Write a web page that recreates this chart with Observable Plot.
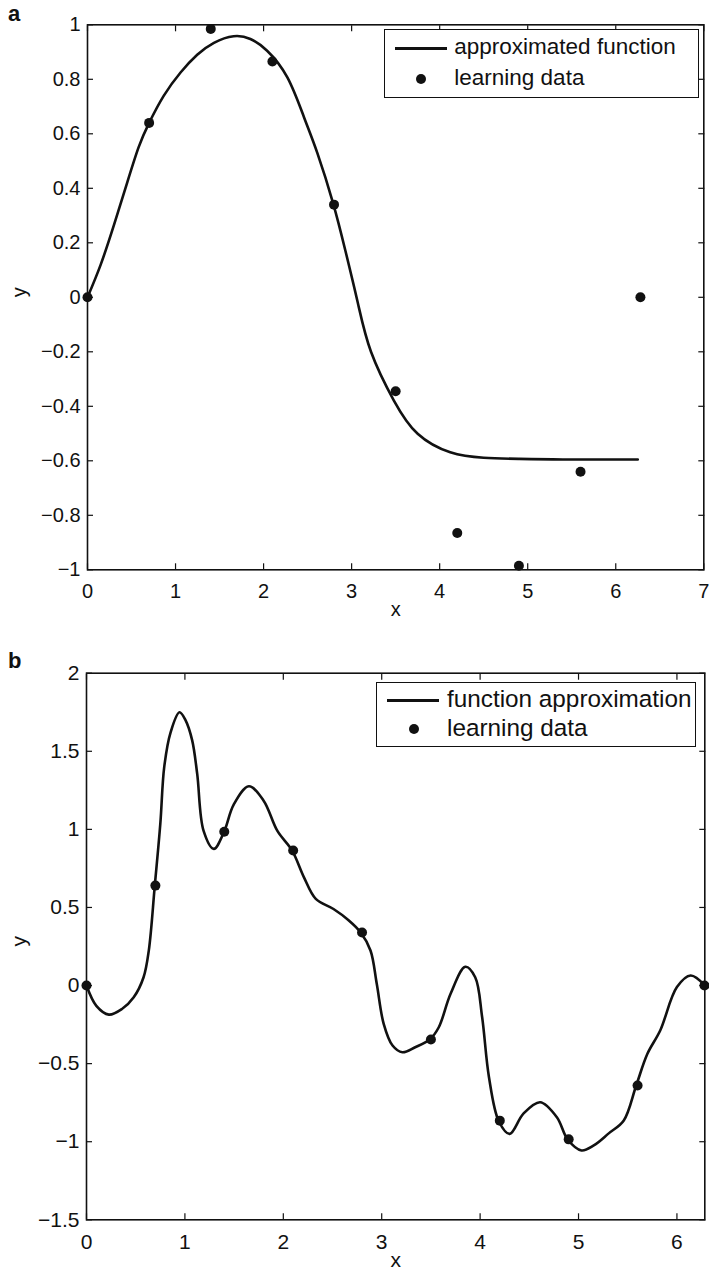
<!DOCTYPE html>
<html><head><meta charset="utf-8">
<script src="https://cdn.jsdelivr.net/npm/d3@7"></script>
<script src="https://cdn.jsdelivr.net/npm/@observablehq/plot@0.6"></script>
<style>
body{margin:0;background:#fff;font-family:"Liberation Sans",Arial,sans-serif;color:#111;}
#wrap{position:relative;width:709px;height:1277px;overflow:hidden;}
.panel{position:absolute;left:0;}
.tag{position:absolute;font-weight:bold;font-size:22px;line-height:1;}
.legend{position:absolute;border:1.6px solid #111;background:#fff;box-sizing:border-box;}
.legend .ln{position:absolute;height:3px;background:#111;}
.legend .dt{position:absolute;width:10px;height:10px;border-radius:50%;background:#111;}
.legend .tx{position:absolute;white-space:nowrap;}
</style>
</head><body>
<div id="wrap"></div>
<script>
// learning data (same in both panels)
const learnX = [0, 0.7, 1.4, 2.1, 2.8, 3.5, 4.2, 4.9, 5.6, 6.28];
const learnY = [0, 0.64, 0.985, 0.865, 0.34, -0.345, -0.865, -0.985, -0.64, 0];

// panel a: approximated function
const aCurveX = [0, 0.15, 0.30, 0.45, 0.58, 0.70, 0.867, 1.057, 1.246, 1.436, 1.66, 1.85, 2.04, 2.27, 2.46, 2.61, 2.79, 2.93, 3.07, 3.22, 3.48, 3.75, 4.12, 4.50, 4.90, 5.40, 6.25];
const aCurveY = [0, 0.12, 0.265, 0.42, 0.55, 0.64, 0.74, 0.825, 0.89, 0.934, 0.958, 0.948, 0.905, 0.807, 0.66, 0.53, 0.345, 0.17, -0.02, -0.20, -0.379, -0.501, -0.569, -0.589, -0.593, -0.595, -0.595];

// panel b: function approximation
const bCurveX = [0, 0.10, 0.227, 0.36, 0.48, 0.58, 0.633, 0.694, 0.75, 0.79, 0.854, 0.945, 1.006, 1.074, 1.125, 1.19, 1.294, 1.395, 1.497, 1.65, 1.80, 1.94, 2.09, 2.21, 2.33, 2.51, 2.66, 2.785, 2.886, 2.95, 3.02, 3.11, 3.21, 3.34, 3.49, 3.58, 3.70, 3.85, 3.95, 4.02, 4.09, 4.19, 4.30, 4.44, 4.61, 4.78, 4.89, 5.03, 5.155, 5.31, 5.46, 5.586, 5.70, 5.83, 6.0, 6.14, 6.283];
const bCurveY = [0, -0.13, -0.186, -0.15, -0.075, 0.053, 0.224, 0.64, 1.035, 1.40, 1.62, 1.75, 1.70, 1.57, 1.355, 0.99, 0.875, 0.98, 1.16, 1.276, 1.184, 0.99, 0.864, 0.693, 0.555, 0.49, 0.42, 0.341, 0.224, 0.01, -0.245, -0.384, -0.427, -0.395, -0.344, -0.267, -0.053, 0.12, 0.053, -0.20, -0.587, -0.869, -0.95, -0.82, -0.747, -0.843, -0.986, -1.056, -1.024, -0.945, -0.864, -0.64, -0.437, -0.288, -0.01, 0.064, 0];

// ticks
const aXTicks = [0, 1, 2, 3, 4, 5, 6, 7];
const aYTicks = [-1, -0.8, -0.6, -0.4, -0.2, 0, 0.2, 0.4, 0.6, 0.8, 1];
const bXTicks = [0, 1, 2, 3, 4, 5, 6];
const bYTicks = [-1.5, -1, -0.5, 0, 0.5, 1, 1.5, 2];

const fmt = d => (d < 0 ? "\u2212" : "") + String(Math.abs(d));
const INK = "#111";

function panel({top, height, mt, mb, ml, mr, xDomain, yDomain, xTicks, yTicks, curveX, curveY, curveType, fs, padX, xLabDy, yLabDx}) {
  const curve = curveX.map((x, i) => ({x, y: curveY[i]}));
  const pts = learnX.map((x, i) => ({x, y: learnY[i]}));
  const tick = 6;
  const svg = Plot.plot({
    width: 709, height,
    marginTop: mt, marginBottom: mb, marginLeft: ml, marginRight: mr,
    style: {fontFamily: '"Liberation Sans", Arial, sans-serif', fontSize: fs + "px", color: INK, background: "white", overflow: "visible"},
    x: {domain: xDomain},
    y: {domain: yDomain},
    marks: [
      Plot.axisX(xTicks, {anchor: "bottom", tickSize: -tick, tickPadding: padX + tick, tickFormat: fmt, label: null, fontSize: fs, stroke: INK, fill: INK, strokeWidth: 1.2}),
      Plot.axisX(xTicks, {anchor: "top", tickSize: -tick, tickFormat: () => "", label: null, stroke: INK, strokeWidth: 1.2}),
      Plot.axisY(yTicks, {anchor: "left", tickSize: -tick, tickPadding: 7 + tick, tickFormat: fmt, label: null, fontSize: fs, stroke: INK, fill: INK, strokeWidth: 1.2}),
      Plot.axisY(yTicks, {anchor: "right", tickSize: -tick, tickFormat: () => "", label: null, stroke: INK, strokeWidth: 1.2}),
      Plot.text(["x"], {text: d => d, frameAnchor: "bottom", dy: xLabDy, fontSize: fs, fill: INK}),
      Plot.text(["y"], {text: d => d, frameAnchor: "left", dx: yLabDx, rotate: -90, fontSize: fs, fill: INK}),
      Plot.line(curve, {x: "x", y: "y", curve: curveType, stroke: INK, strokeWidth: 2.6}),
      Plot.dot(pts, {x: "x", y: "y", r: 5, fill: INK, stroke: "none"}),
      Plot.frame({stroke: INK, strokeWidth: 1.6})
    ]
  });
  svg.classList.add("panel");
  svg.style.top = top + "px";
  return svg;
}

const wrap = document.getElementById("wrap");

wrap.appendChild(panel({top: 0, height: 640, mt: 24.3, mb: 70.7, ml: 87, mr: 5.7,
  xDomain: [0, 7], yDomain: [-1, 1], xTicks: aXTicks, yTicks: aYTicks,
  curveX: aCurveX, curveY: aCurveY, curveType: "natural", fs: 20, padX: 14, xLabDy: 46, yLabDx: -68}));

wrap.appendChild(panel({top: 640, height: 637, mt: 32.7, mb: 57.7, ml: 86, mr: 4.7,
  xDomain: [0, 6.2832], yDomain: [-1.5, 2], xTicks: bXTicks, yTicks: bYTicks,
  curveX: bCurveX, curveY: bCurveY, curveType: "catmull-rom", fs: 21, padX: 14, xLabDy: 47.4, yLabDx: -67}));

function tag(text, x, y) {
  const d = document.createElement("div");
  d.className = "tag"; d.textContent = text;
  d.style.left = x + "px"; d.style.top = y + "px";
  wrap.appendChild(d);
}
tag("a", 8, 3);
tag("b", 8, 650);

function legend({left, top, width, height, fs, lineX, lineW, row1, row2, dotX, textX, label1}) {
  const box = document.createElement("div");
  box.className = "legend";
  Object.assign(box.style, {left: left + "px", top: top + "px", width: width + "px", height: height + "px", fontSize: fs + "px"});
  box.innerHTML =
    `<div class="ln" style="left:${lineX}px;width:${lineW}px;top:${row1 - 1.5}px"></div>` +
    `<div class="tx" style="left:${textX}px;top:${row1 - fs * 0.56}px;line-height:1">${label1}</div>` +
    `<div class="dt" style="left:${dotX - 5}px;top:${row2 - 5}px"></div>` +
    `<div class="tx" style="left:${textX}px;top:${row2 - fs * 0.56}px;line-height:1">learning data</div>`;
  wrap.appendChild(box);
}
legend({left: 384.3, top: 29.3, width: 315, height: 68.4, fs: 22.5,
  lineX: 9.5, lineW: 52, row1: 18, row2: 49, dotX: 36, textX: 69, label1: "approximated function"});
legend({left: 376, top: 681.7, width: 320, height: 65, fs: 24.3,
  lineX: 9.5, lineW: 52, row1: 17.5, row2: 46.5, dotX: 36.5, textX: 70, label1: "function approximation"});
</script>
</body></html>
